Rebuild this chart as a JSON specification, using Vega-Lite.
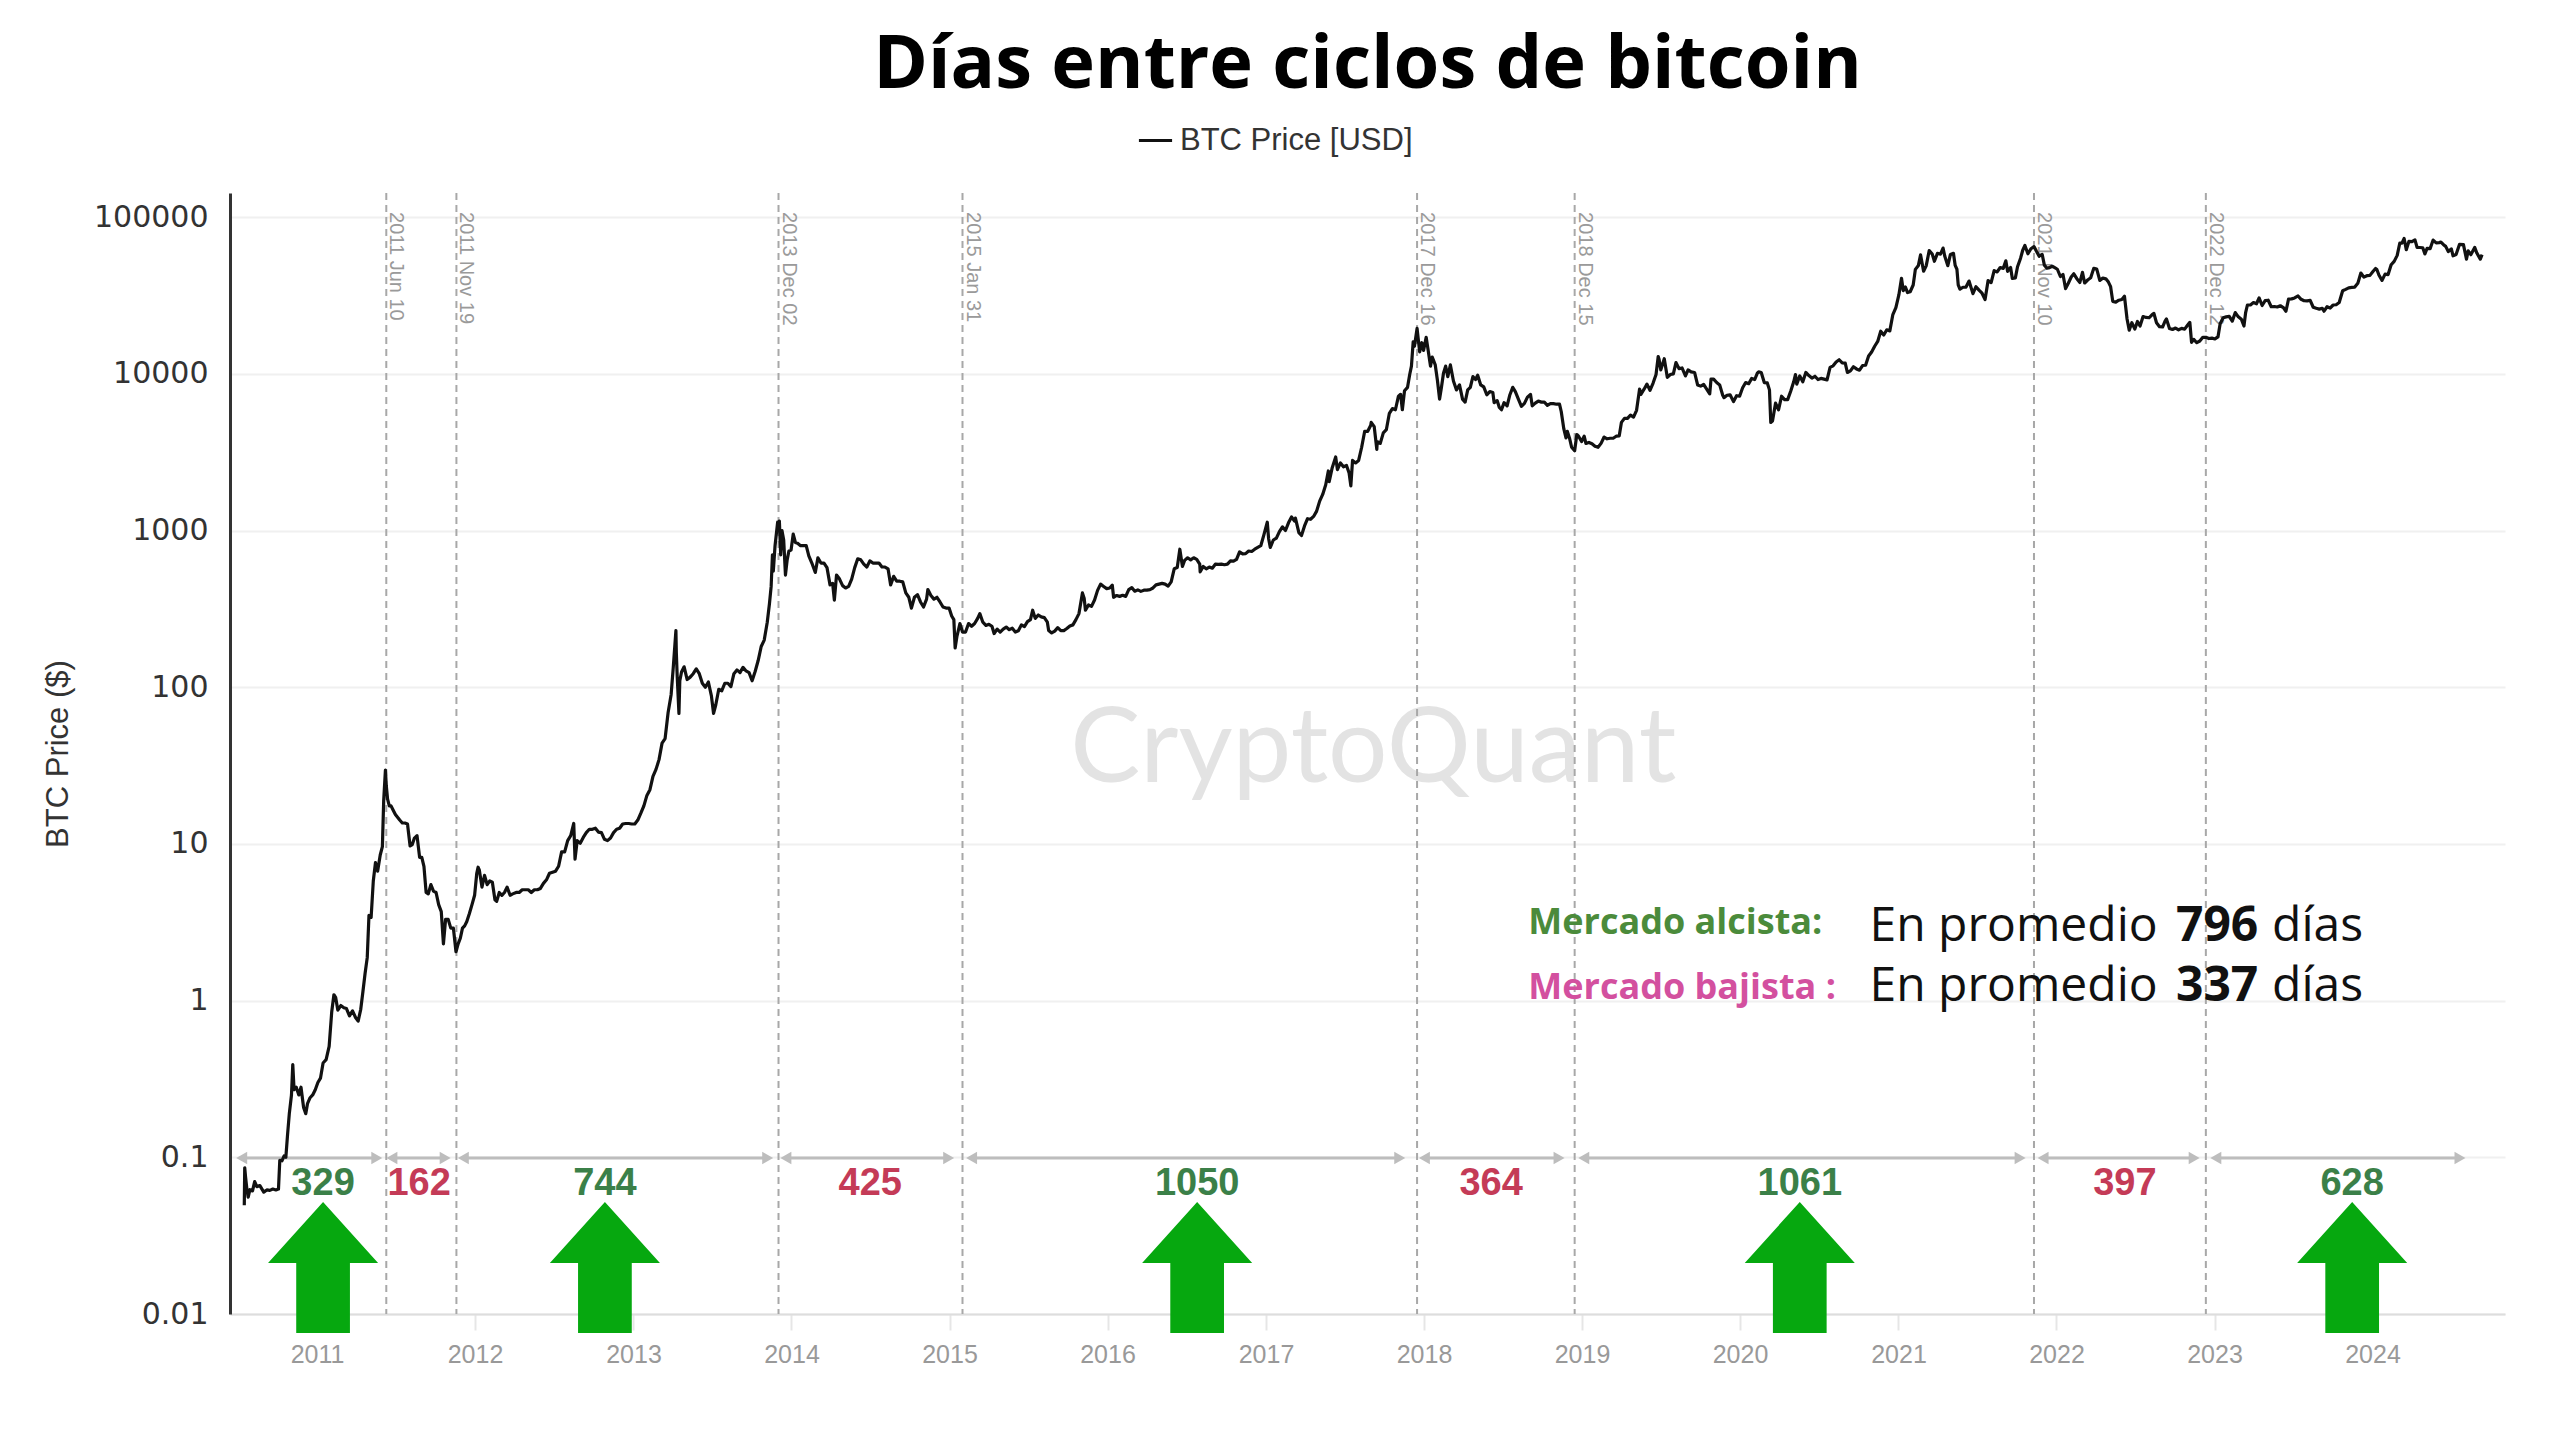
{
"$schema": "https://vega.github.io/schema/vega-lite/v6.json",
"width": 2275, "height": 1121,
"autosize": {"type": "none"},
"padding": {"left": 230, "top": 193, "right": 54, "bottom": 134},
"background": "white",
"title": {"text": "Días entre ciclos de bitcoin", "font": "Open Sans", "fontSize": 74, "fontWeight": "bold", "color": "#000000", "anchor": "middle", "frame": "group", "offset": 18},
"config": {"view": {"stroke": null}},
"datasets": {
"cycles": [
{"date":"2011-06-10","label":"2011 Jun 10"},{"date":"2011-11-19","label":"2011 Nov 19"},{"date":"2013-12-02","label":"2013 Dec 02"},{"date":"2015-01-31","label":"2015 Jan 31"},{"date":"2017-12-16","label":"2017 Dec 16"},{"date":"2018-12-15","label":"2018 Dec 15"},{"date":"2021-11-10","label":"2021 Nov 10"},{"date":"2022-12-12","label":"2022 Dec 12"}],
"intervals": [
{"start":"2010-07-11","end":"2011-05-19","mid":"2011-01-15","days":329,"kind":"alcista"},
{"start":"2011-06-23","end":"2011-10-24","mid":"2011-08-25","days":162,"kind":"bajista"},
{"start":"2011-12-05","end":"2013-11-07","mid":"2012-10-27","days":744,"kind":"alcista"},
{"start":"2013-12-19","end":"2014-12-30","mid":"2014-07-02","days":425,"kind":"bajista"},
{"start":"2015-02-21","end":"2017-11-06","mid":"2016-07-26","days":1050,"kind":"alcista"},
{"start":"2018-01-02","end":"2018-11-09","mid":"2018-06-05","days":364,"kind":"bajista"},
{"start":"2019-01-05","end":"2021-10-09","mid":"2020-05-18","days":1061,"kind":"alcista"},
{"start":"2021-12-01","end":"2022-11-15","mid":"2022-06-08","days":397,"kind":"bajista"},
{"start":"2023-01-04","end":"2024-07-21","mid":"2023-11-15","days":628,"kind":"alcista"}],
"annot": [
{"date":"2018-08-30","value":3.15,"text":"Mercado alcista:","part":"alcista"},
{"date":"2018-08-30","value":1.21,"text":"Mercado bajista :","part":"bajista"},
{"date":"2020-10-26","value":2.94,"text":"En promedio","part":"texto"},
{"date":"2020-10-26","value":1.22,"text":"En promedio","part":"texto"},
{"date":"2022-10-04","value":2.94,"text":"796","part":"numero"},
{"date":"2022-10-04","value":1.22,"text":"337","part":"numero"},
{"date":"2023-05-14","value":2.94,"text":"días","part":"texto"},
{"date":"2023-05-14","value":1.22,"text":"días","part":"texto"}],
"btc": [
{"date":"2010-07-17","price":0.0495},{"date":"2010-07-18","price":0.0858},{"date":"2010-07-20","price":0.0747},{"date":"2010-07-23","price":0.0626},{"date":"2010-07-26","price":0.0556},{"date":"2010-07-30","price":0.0621},{"date":"2010-08-05","price":0.061},{"date":"2010-08-10","price":0.07},{"date":"2010-08-15","price":0.065},{"date":"2010-08-22","price":0.066},{"date":"2010-08-31","price":0.06},{"date":"2010-09-07","price":0.0619},{"date":"2010-09-14","price":0.0615},{"date":"2010-09-21","price":0.0627},{"date":"2010-09-28","price":0.0619},{"date":"2010-10-04","price":0.0627},{"date":"2010-10-07","price":0.0956},{"date":"2010-10-12","price":0.095},{"date":"2010-10-17","price":0.102},{"date":"2010-10-21","price":0.1},{"date":"2010-10-25","price":0.14},{"date":"2010-10-29","price":0.19},{"date":"2010-11-03","price":0.25},{"date":"2010-11-06","price":0.39},{"date":"2010-11-09","price":0.27},{"date":"2010-11-14","price":0.28},{"date":"2010-11-20","price":0.25},{"date":"2010-11-25","price":0.28},{"date":"2010-12-01","price":0.208},{"date":"2010-12-06","price":0.19},{"date":"2010-12-10","price":0.22},{"date":"2010-12-16","price":0.24},{"date":"2010-12-22","price":0.25},{"date":"2010-12-28","price":0.27},
{"date":"2011-01-03","price":0.30},{"date":"2011-01-09","price":0.32},{"date":"2011-01-15","price":0.40},{"date":"2011-01-22","price":0.42},{"date":"2011-01-29","price":0.51},{"date":"2011-02-04","price":0.85},{"date":"2011-02-09","price":1.09},{"date":"2011-02-13","price":1.05},{"date":"2011-02-18","price":0.87},{"date":"2011-02-25","price":0.93},{"date":"2011-03-04","price":0.9},{"date":"2011-03-10","price":0.89},{"date":"2011-03-17","price":0.8},{"date":"2011-03-24","price":0.86},{"date":"2011-03-31","price":0.78},{"date":"2011-04-06","price":0.74},{"date":"2011-04-12","price":0.88},{"date":"2011-04-17","price":1.14},{"date":"2011-04-22","price":1.49},{"date":"2011-04-27","price":1.88},{"date":"2011-05-01","price":3.5},{"date":"2011-05-06","price":3.4},{"date":"2011-05-11","price":5.8},{"date":"2011-05-16","price":7.6},{"date":"2011-05-21","price":6.7},{"date":"2011-05-27","price":8.5},{"date":"2011-06-01","price":9.6},{"date":"2011-06-04","price":18.9},{"date":"2011-06-08","price":29.6},{"date":"2011-06-10","price":23.5},{"date":"2011-06-13","price":19.3},{"date":"2011-06-17","price":17.5},{"date":"2011-06-21","price":17.5},{"date":"2011-06-26","price":16.4},{"date":"2011-07-01","price":15.4},{"date":"2011-07-06","price":14.8},{"date":"2011-07-11","price":14.2},{"date":"2011-07-17","price":13.6},{"date":"2011-07-23","price":13.6},{"date":"2011-07-29","price":13.4},{"date":"2011-08-04","price":9.7},{"date":"2011-08-09","price":9.9},{"date":"2011-08-14","price":10.9},{"date":"2011-08-20","price":11.3},{"date":"2011-08-26","price":8.2},{"date":"2011-08-31","price":8.2},{"date":"2011-09-05","price":7.2},{"date":"2011-09-10","price":4.9},{"date":"2011-09-15","price":4.8},{"date":"2011-09-21","price":5.5},{"date":"2011-09-27","price":5.0},{"date":"2011-10-03","price":4.9},{"date":"2011-10-09","price":4.1},{"date":"2011-10-15","price":3.7},{"date":"2011-10-20","price":2.3},{"date":"2011-10-25","price":3.3},{"date":"2011-10-31","price":3.3},{"date":"2011-11-06","price":2.9},{"date":"2011-11-12","price":2.9},{"date":"2011-11-18","price":2.05},{"date":"2011-11-23","price":2.3},{"date":"2011-11-28","price":2.5},{"date":"2011-12-03","price":2.9},{"date":"2011-12-08","price":3.0},{"date":"2011-12-13","price":3.2},{"date":"2011-12-19","price":3.6},{"date":"2011-12-25","price":4.1},{"date":"2011-12-31","price":4.7},
{"date":"2012-01-05","price":6.5},{"date":"2012-01-08","price":7.1},{"date":"2012-01-11","price":6.8},{"date":"2012-01-17","price":5.3},{"date":"2012-01-23","price":6.3},{"date":"2012-01-29","price":5.5},{"date":"2012-02-04","price":5.8},{"date":"2012-02-10","price":5.7},{"date":"2012-02-16","price":4.4},{"date":"2012-02-20","price":4.3},{"date":"2012-02-26","price":4.9},{"date":"2012-03-03","price":4.7},{"date":"2012-03-09","price":4.9},{"date":"2012-03-15","price":5.3},{"date":"2012-03-22","price":4.7},{"date":"2012-03-28","price":4.8},{"date":"2012-04-05","price":4.9},{"date":"2012-04-12","price":4.9},{"date":"2012-04-19","price":5.1},{"date":"2012-04-26","price":5.1},{"date":"2012-05-03","price":5.1},{"date":"2012-05-10","price":4.9},{"date":"2012-05-17","price":5.1},{"date":"2012-05-24","price":5.1},{"date":"2012-05-31","price":5.2},{"date":"2012-06-07","price":5.6},{"date":"2012-06-14","price":5.9},{"date":"2012-06-21","price":6.5},{"date":"2012-06-28","price":6.6},{"date":"2012-07-05","price":6.7},{"date":"2012-07-12","price":7.2},{"date":"2012-07-19","price":8.9},{"date":"2012-07-26","price":8.9},{"date":"2012-08-02","price":10.5},{"date":"2012-08-09","price":11.3},{"date":"2012-08-16","price":13.5},{"date":"2012-08-19","price":8.0},{"date":"2012-08-24","price":10.5},{"date":"2012-08-31","price":10.1},{"date":"2012-09-07","price":11.0},{"date":"2012-09-14","price":11.8},{"date":"2012-09-21","price":12.4},{"date":"2012-09-28","price":12.4},{"date":"2012-10-05","price":12.6},{"date":"2012-10-12","price":11.9},{"date":"2012-10-19","price":11.8},{"date":"2012-10-26","price":10.7},{"date":"2012-11-02","price":10.5},{"date":"2012-11-09","price":10.9},{"date":"2012-11-16","price":11.8},{"date":"2012-11-23","price":12.4},{"date":"2012-11-30","price":12.6},{"date":"2012-12-07","price":13.4},{"date":"2012-12-14","price":13.5},{"date":"2012-12-21","price":13.5},{"date":"2012-12-28","price":13.4},
{"date":"2013-01-04","price":13.4},{"date":"2013-01-11","price":14.2},{"date":"2013-01-18","price":15.7},{"date":"2013-01-25","price":17.5},{"date":"2013-02-01","price":20.4},{"date":"2013-02-08","price":22.2},{"date":"2013-02-15","price":27.0},{"date":"2013-02-22","price":29.9},{"date":"2013-03-01","price":34.5},{"date":"2013-03-08","price":44},{"date":"2013-03-15","price":47},{"date":"2013-03-22","price":69},{"date":"2013-03-29","price":90},{"date":"2013-04-03","price":135},{"date":"2013-04-09","price":230},{"date":"2013-04-10","price":165},{"date":"2013-04-12","price":117},{"date":"2013-04-16","price":68},{"date":"2013-04-18","price":110},{"date":"2013-04-22","price":125},{"date":"2013-04-28","price":135},{"date":"2013-05-05","price":112},{"date":"2013-05-12","price":116},{"date":"2013-05-19","price":122},{"date":"2013-05-26","price":131},{"date":"2013-06-02","price":122},{"date":"2013-06-09","price":106},{"date":"2013-06-16","price":100},{"date":"2013-06-23","price":108},{"date":"2013-06-30","price":88},{"date":"2013-07-05","price":68},{"date":"2013-07-10","price":77},{"date":"2013-07-17","price":97},{"date":"2013-07-24","price":95},{"date":"2013-07-31","price":106},{"date":"2013-08-07","price":106},{"date":"2013-08-14","price":101},{"date":"2013-08-21","price":122},{"date":"2013-08-28","price":129},{"date":"2013-09-04","price":124},{"date":"2013-09-11","price":134},{"date":"2013-09-18","price":127},{"date":"2013-09-25","price":124},{"date":"2013-10-02","price":110},{"date":"2013-10-09","price":126},{"date":"2013-10-16","price":148},{"date":"2013-10-23","price":182},{"date":"2013-10-30","price":200},{"date":"2013-11-06","price":260},{"date":"2013-11-11","price":340},{"date":"2013-11-15","price":440},{"date":"2013-11-18","price":700},{"date":"2013-11-20","price":550},{"date":"2013-11-24","price":800},{"date":"2013-11-30","price":1130},{"date":"2013-12-02","price":1040},{"date":"2013-12-04","price":1150},{"date":"2013-12-07","price":700},{"date":"2013-12-10","price":1000},{"date":"2013-12-14","price":870},{"date":"2013-12-18","price":520},{"date":"2013-12-22","price":650},{"date":"2013-12-26","price":740},{"date":"2013-12-31","price":750},
{"date":"2014-01-05","price":950},{"date":"2014-01-10","price":840},{"date":"2014-01-15","price":830},{"date":"2014-01-22","price":800},{"date":"2014-01-29","price":800},{"date":"2014-02-04","price":800},{"date":"2014-02-10","price":690},{"date":"2014-02-17","price":620},{"date":"2014-02-25","price":540},{"date":"2014-03-03","price":670},{"date":"2014-03-10","price":620},{"date":"2014-03-17","price":620},{"date":"2014-03-24","price":580},{"date":"2014-03-31","price":450},{"date":"2014-04-06","price":460},{"date":"2014-04-10","price":360},{"date":"2014-04-15","price":520},{"date":"2014-04-22","price":490},{"date":"2014-04-29","price":445},{"date":"2014-05-06","price":430},{"date":"2014-05-13","price":440},{"date":"2014-05-20","price":490},{"date":"2014-05-27","price":580},{"date":"2014-06-03","price":660},{"date":"2014-06-10","price":650},{"date":"2014-06-17","price":610},{"date":"2014-06-24","price":585},{"date":"2014-07-01","price":640},{"date":"2014-07-08","price":620},{"date":"2014-07-15","price":620},{"date":"2014-07-22","price":620},{"date":"2014-07-29","price":585},{"date":"2014-08-05","price":585},{"date":"2014-08-12","price":570},{"date":"2014-08-18","price":450},{"date":"2014-08-25","price":510},{"date":"2014-09-01","price":475},{"date":"2014-09-08","price":475},{"date":"2014-09-15","price":470},{"date":"2014-09-22","price":400},{"date":"2014-09-29","price":375},{"date":"2014-10-05","price":320},{"date":"2014-10-12","price":375},{"date":"2014-10-19","price":390},{"date":"2014-10-26","price":350},{"date":"2014-11-02","price":325},{"date":"2014-11-09","price":365},{"date":"2014-11-12","price":420},{"date":"2014-11-19","price":385},{"date":"2014-11-26","price":365},{"date":"2014-12-03","price":375},{"date":"2014-12-10","price":350},{"date":"2014-12-17","price":325},{"date":"2014-12-24","price":320},{"date":"2014-12-31","price":320},
{"date":"2015-01-06","price":285},{"date":"2015-01-11","price":270},{"date":"2015-01-14","price":178},{"date":"2015-01-18","price":210},{"date":"2015-01-25","price":255},{"date":"2015-01-31","price":225},{"date":"2015-02-07","price":225},{"date":"2015-02-14","price":255},{"date":"2015-02-21","price":245},{"date":"2015-02-28","price":255},{"date":"2015-03-07","price":275},{"date":"2015-03-12","price":295},{"date":"2015-03-19","price":260},{"date":"2015-03-26","price":248},{"date":"2015-04-02","price":252},{"date":"2015-04-09","price":245},{"date":"2015-04-14","price":220},{"date":"2015-04-21","price":235},{"date":"2015-04-28","price":225},{"date":"2015-05-05","price":235},{"date":"2015-05-12","price":242},{"date":"2015-05-19","price":233},{"date":"2015-05-26","price":238},{"date":"2015-06-02","price":225},{"date":"2015-06-09","price":229},{"date":"2015-06-16","price":250},{"date":"2015-06-23","price":244},{"date":"2015-06-30","price":262},{"date":"2015-07-07","price":270},{"date":"2015-07-12","price":310},{"date":"2015-07-18","price":275},{"date":"2015-07-25","price":289},{"date":"2015-08-01","price":281},{"date":"2015-08-08","price":278},{"date":"2015-08-15","price":260},{"date":"2015-08-18","price":230},{"date":"2015-08-25","price":222},{"date":"2015-09-01","price":228},{"date":"2015-09-08","price":240},{"date":"2015-09-15","price":230},{"date":"2015-09-22","price":230},{"date":"2015-09-29","price":237},{"date":"2015-10-06","price":246},{"date":"2015-10-13","price":250},{"date":"2015-10-20","price":270},{"date":"2015-10-27","price":295},{"date":"2015-11-04","price":400},{"date":"2015-11-08","price":370},{"date":"2015-11-11","price":310},{"date":"2015-11-18","price":335},{"date":"2015-11-25","price":328},{"date":"2015-12-02","price":360},{"date":"2015-12-09","price":415},{"date":"2015-12-16","price":455},{"date":"2015-12-23","price":440},{"date":"2015-12-30","price":426},
{"date":"2016-01-06","price":430},{"date":"2016-01-12","price":448},{"date":"2016-01-15","price":375},{"date":"2016-01-22","price":385},{"date":"2016-01-29","price":380},{"date":"2016-02-05","price":386},{"date":"2016-02-12","price":380},{"date":"2016-02-19","price":420},{"date":"2016-02-26","price":432},{"date":"2016-03-04","price":410},{"date":"2016-03-11","price":418},{"date":"2016-03-18","price":409},{"date":"2016-03-25","price":416},{"date":"2016-04-01","price":417},{"date":"2016-04-08","price":420},{"date":"2016-04-15","price":430},{"date":"2016-04-22","price":450},{"date":"2016-04-29","price":455},{"date":"2016-05-06","price":460},{"date":"2016-05-13","price":455},{"date":"2016-05-20","price":442},{"date":"2016-05-27","price":470},{"date":"2016-06-03","price":570},{"date":"2016-06-10","price":580},{"date":"2016-06-16","price":760},{"date":"2016-06-22","price":590},{"date":"2016-06-27","price":645},{"date":"2016-07-04","price":670},{"date":"2016-07-11","price":650},{"date":"2016-07-18","price":670},{"date":"2016-07-25","price":655},{"date":"2016-08-01","price":610},{"date":"2016-08-02","price":545},{"date":"2016-08-09","price":590},{"date":"2016-08-16","price":570},{"date":"2016-08-23","price":585},{"date":"2016-08-30","price":575},{"date":"2016-09-06","price":610},{"date":"2016-09-13","price":608},{"date":"2016-09-20","price":610},{"date":"2016-09-27","price":605},{"date":"2016-10-04","price":610},{"date":"2016-10-11","price":640},{"date":"2016-10-18","price":638},{"date":"2016-10-25","price":655},{"date":"2016-11-01","price":730},{"date":"2016-11-08","price":710},{"date":"2016-11-15","price":712},{"date":"2016-11-22","price":740},{"date":"2016-11-29","price":735},{"date":"2016-12-06","price":760},{"date":"2016-12-13","price":780},{"date":"2016-12-20","price":800},{"date":"2016-12-27","price":935},
{"date":"2017-01-04","price":1130},{"date":"2017-01-07","price":890},{"date":"2017-01-11","price":780},{"date":"2017-01-18","price":870},{"date":"2017-01-25","price":895},{"date":"2017-02-01","price":985},{"date":"2017-02-08","price":1055},{"date":"2017-02-15","price":1000},{"date":"2017-02-22","price":1120},{"date":"2017-03-01","price":1220},{"date":"2017-03-08","price":1150},{"date":"2017-03-10","price":1200},{"date":"2017-03-18","price":970},{"date":"2017-03-24","price":930},{"date":"2017-03-31","price":1070},{"date":"2017-04-07","price":1190},{"date":"2017-04-14","price":1180},{"date":"2017-04-21","price":1230},{"date":"2017-04-28","price":1330},{"date":"2017-05-05","price":1540},{"date":"2017-05-12","price":1700},{"date":"2017-05-19","price":1960},{"date":"2017-05-25","price":2400},{"date":"2017-05-27","price":2050},{"date":"2017-06-03","price":2520},{"date":"2017-06-11","price":2950},{"date":"2017-06-15","price":2450},{"date":"2017-06-22","price":2700},{"date":"2017-06-29","price":2550},{"date":"2017-07-06","price":2600},{"date":"2017-07-12","price":2330},{"date":"2017-07-16","price":1930},{"date":"2017-07-20","price":2800},{"date":"2017-07-27","price":2700},{"date":"2017-08-03","price":2800},{"date":"2017-08-10","price":3400},{"date":"2017-08-17","price":4300},{"date":"2017-08-24","price":4300},{"date":"2017-08-31","price":4700},{"date":"2017-09-01","price":4900},{"date":"2017-09-08","price":4600},{"date":"2017-09-14","price":3300},{"date":"2017-09-15","price":3700},{"date":"2017-09-22","price":3600},{"date":"2017-09-29","price":4200},{"date":"2017-10-06","price":4400},{"date":"2017-10-13","price":5600},{"date":"2017-10-20","price":6000},{"date":"2017-10-27","price":5900},{"date":"2017-11-03","price":7200},{"date":"2017-11-08","price":7400},{"date":"2017-11-12","price":5900},{"date":"2017-11-17","price":7800},{"date":"2017-11-24","price":8200},{"date":"2017-11-29","price":9900},{"date":"2017-12-03","price":11200},{"date":"2017-12-07","price":16000},{"date":"2017-12-10","price":15000},{"date":"2017-12-16","price":19500},{"date":"2017-12-22","price":13800},{"date":"2017-12-27","price":15800},{"date":"2017-12-31","price":14100},
{"date":"2018-01-06","price":17100},{"date":"2018-01-10","price":14500},{"date":"2018-01-16","price":11200},{"date":"2018-01-20","price":12800},{"date":"2018-01-27","price":11400},{"date":"2018-02-01","price":9100},{"date":"2018-02-06","price":6900},{"date":"2018-02-10","price":8100},{"date":"2018-02-15","price":10100},{"date":"2018-02-20","price":11200},{"date":"2018-02-25","price":9600},{"date":"2018-03-03","price":11400},{"date":"2018-03-10","price":9000},{"date":"2018-03-17","price":7900},{"date":"2018-03-24","price":8500},{"date":"2018-03-31","price":6900},{"date":"2018-04-06","price":6600},{"date":"2018-04-12","price":7900},{"date":"2018-04-18","price":8200},{"date":"2018-04-24","price":9600},{"date":"2018-04-30","price":9200},{"date":"2018-05-05","price":9800},{"date":"2018-05-12","price":8500},{"date":"2018-05-19","price":8250},{"date":"2018-05-26","price":7350},{"date":"2018-06-02","price":7700},{"date":"2018-06-09","price":7600},{"date":"2018-06-12","price":6550},{"date":"2018-06-19","price":6750},{"date":"2018-06-24","price":6100},{"date":"2018-06-29","price":5900},{"date":"2018-07-05","price":6550},{"date":"2018-07-12","price":6250},{"date":"2018-07-18","price":7300},{"date":"2018-07-25","price":8200},{"date":"2018-07-31","price":7700},{"date":"2018-08-07","price":6900},{"date":"2018-08-14","price":6200},{"date":"2018-08-21","price":6480},{"date":"2018-08-28","price":7100},{"date":"2018-09-04","price":7400},{"date":"2018-09-08","price":6250},{"date":"2018-09-15","price":6500},{"date":"2018-09-22","price":6700},{"date":"2018-09-29","price":6600},{"date":"2018-10-06","price":6600},{"date":"2018-10-13","price":6300},{"date":"2018-10-20","price":6450},{"date":"2018-10-27","price":6450},{"date":"2018-11-03","price":6400},{"date":"2018-11-10","price":6400},{"date":"2018-11-14","price":5750},{"date":"2018-11-20","price":4450},{"date":"2018-11-25","price":3900},{"date":"2018-11-28","price":4300},{"date":"2018-12-03","price":3900},{"date":"2018-12-08","price":3400},{"date":"2018-12-15","price":3230},{"date":"2018-12-20","price":4100},{"date":"2018-12-24","price":4000},{"date":"2018-12-31","price":3700},
{"date":"2019-01-06","price":4000},{"date":"2019-01-10","price":3600},{"date":"2019-01-17","price":3650},{"date":"2019-01-24","price":3580},{"date":"2019-01-31","price":3450},{"date":"2019-02-07","price":3400},{"date":"2019-02-14","price":3600},{"date":"2019-02-21","price":3950},{"date":"2019-02-28","price":3850},{"date":"2019-03-07","price":3880},{"date":"2019-03-14","price":3880},{"date":"2019-03-21","price":4000},{"date":"2019-03-28","price":4020},{"date":"2019-04-02","price":4900},{"date":"2019-04-09","price":5200},{"date":"2019-04-16","price":5200},{"date":"2019-04-23","price":5450},{"date":"2019-04-30","price":5300},{"date":"2019-05-07","price":5850},{"date":"2019-05-14","price":8000},{"date":"2019-05-17","price":7400},{"date":"2019-05-24","price":7950},{"date":"2019-05-31","price":8600},{"date":"2019-06-07","price":7850},{"date":"2019-06-14","price":8700},{"date":"2019-06-21","price":9900},{"date":"2019-06-26","price":12900},{"date":"2019-06-28","price":12400},{"date":"2019-07-02","price":10600},{"date":"2019-07-10","price":12500},{"date":"2019-07-17","price":9500},{"date":"2019-07-24","price":9900},{"date":"2019-07-31","price":10000},{"date":"2019-08-06","price":11800},{"date":"2019-08-13","price":10800},{"date":"2019-08-20","price":10900},{"date":"2019-08-28","price":9700},{"date":"2019-09-03","price":10600},{"date":"2019-09-10","price":10300},{"date":"2019-09-18","price":10200},{"date":"2019-09-25","price":8500},{"date":"2019-10-02","price":8350},{"date":"2019-10-09","price":8550},{"date":"2019-10-16","price":8000},{"date":"2019-10-23","price":7450},{"date":"2019-10-26","price":9250},{"date":"2019-11-01","price":9250},{"date":"2019-11-08","price":8800},{"date":"2019-11-15","price":8500},{"date":"2019-11-22","price":7300},{"date":"2019-11-25","price":7050},{"date":"2019-12-02","price":7300},{"date":"2019-12-09","price":7350},{"date":"2019-12-17","price":6650},{"date":"2019-12-24","price":7250},{"date":"2019-12-31","price":7200},
{"date":"2020-01-07","price":8150},{"date":"2020-01-14","price":8800},{"date":"2020-01-21","price":8650},{"date":"2020-01-28","price":9350},{"date":"2020-02-04","price":9200},{"date":"2020-02-10","price":10100},{"date":"2020-02-13","price":10300},{"date":"2020-02-19","price":10200},{"date":"2020-02-26","price":8800},{"date":"2020-03-04","price":8750},{"date":"2020-03-09","price":7900},{"date":"2020-03-12","price":4900},{"date":"2020-03-16","price":5000},{"date":"2020-03-23","price":6500},{"date":"2020-03-30","price":5900},{"date":"2020-04-06","price":7200},{"date":"2020-04-13","price":6850},{"date":"2020-04-20","price":6850},{"date":"2020-04-27","price":7750},{"date":"2020-05-04","price":8900},{"date":"2020-05-08","price":9900},{"date":"2020-05-11","price":8600},{"date":"2020-05-18","price":9700},{"date":"2020-05-25","price":8900},{"date":"2020-06-01","price":10200},{"date":"2020-06-08","price":9750},{"date":"2020-06-15","price":9400},{"date":"2020-06-22","price":9650},{"date":"2020-06-29","price":9200},{"date":"2020-07-06","price":9350},{"date":"2020-07-13","price":9250},{"date":"2020-07-20","price":9150},{"date":"2020-07-27","price":11000},{"date":"2020-08-03","price":11250},{"date":"2020-08-10","price":11900},{"date":"2020-08-17","price":12300},{"date":"2020-08-24","price":11750},{"date":"2020-08-31","price":11700},{"date":"2020-09-05","price":10200},{"date":"2020-09-12","price":10450},{"date":"2020-09-19","price":11100},{"date":"2020-09-26","price":10750},{"date":"2020-10-03","price":10550},{"date":"2020-10-10","price":11300},{"date":"2020-10-17","price":11350},{"date":"2020-10-24","price":13000},{"date":"2020-10-31","price":13800},{"date":"2020-11-07","price":15000},{"date":"2020-11-14","price":16100},{"date":"2020-11-21","price":18700},{"date":"2020-11-28","price":17700},{"date":"2020-12-05","price":19100},{"date":"2020-12-12","price":18800},{"date":"2020-12-19","price":23900},{"date":"2020-12-26","price":26500},
{"date":"2021-01-02","price":32000},{"date":"2021-01-08","price":40700},{"date":"2021-01-12","price":34000},{"date":"2021-01-17","price":35800},{"date":"2021-01-22","price":33000},{"date":"2021-01-28","price":33400},{"date":"2021-02-04","price":36900},{"date":"2021-02-09","price":46400},{"date":"2021-02-16","price":49200},{"date":"2021-02-21","price":57500},{"date":"2021-02-28","price":45200},{"date":"2021-03-06","price":48900},{"date":"2021-03-13","price":61200},{"date":"2021-03-20","price":58100},{"date":"2021-03-25","price":52300},{"date":"2021-04-01","price":58800},{"date":"2021-04-08","price":58100},{"date":"2021-04-14","price":63500},{"date":"2021-04-18","price":56200},{"date":"2021-04-25","price":49000},{"date":"2021-05-01","price":57800},{"date":"2021-05-08","price":58800},{"date":"2021-05-12","price":49200},{"date":"2021-05-16","price":46500},{"date":"2021-05-19","price":37000},{"date":"2021-05-23","price":34700},{"date":"2021-05-30","price":35700},{"date":"2021-06-06","price":35800},{"date":"2021-06-13","price":39100},{"date":"2021-06-22","price":32500},{"date":"2021-06-29","price":36000},{"date":"2021-07-06","price":34200},{"date":"2021-07-13","price":32700},{"date":"2021-07-20","price":29800},{"date":"2021-07-27","price":39400},{"date":"2021-08-03","price":38200},{"date":"2021-08-10","price":45600},{"date":"2021-08-17","price":44700},{"date":"2021-08-24","price":47700},{"date":"2021-08-31","price":47100},{"date":"2021-09-06","price":52600},{"date":"2021-09-10","price":45100},{"date":"2021-09-17","price":47700},{"date":"2021-09-21","price":40600},{"date":"2021-09-28","price":41000},{"date":"2021-10-03","price":48200},{"date":"2021-10-10","price":54700},{"date":"2021-10-15","price":61500},{"date":"2021-10-20","price":66000},{"date":"2021-10-27","price":58400},{"date":"2021-11-03","price":62900},{"date":"2021-11-10","price":64900},{"date":"2021-11-16","price":60300},{"date":"2021-11-22","price":56300},{"date":"2021-11-29","price":57800},{"date":"2021-12-04","price":49400},{"date":"2021-12-10","price":47200},{"date":"2021-12-16","price":47600},{"date":"2021-12-22","price":48600},{"date":"2021-12-28","price":47600},
{"date":"2022-01-03","price":46500},{"date":"2022-01-10","price":41800},{"date":"2022-01-16","price":43100},{"date":"2022-01-22","price":35000},{"date":"2022-01-28","price":37700},{"date":"2022-02-04","price":41500},{"date":"2022-02-10","price":43500},{"date":"2022-02-17","price":40500},{"date":"2022-02-24","price":38300},{"date":"2022-03-02","price":44400},{"date":"2022-03-07","price":38000},{"date":"2022-03-14","price":39700},{"date":"2022-03-21","price":41000},{"date":"2022-03-28","price":47100},{"date":"2022-04-04","price":46600},{"date":"2022-04-11","price":39500},{"date":"2022-04-18","price":40800},{"date":"2022-04-25","price":40400},{"date":"2022-05-01","price":38500},{"date":"2022-05-06","price":36000},{"date":"2022-05-11","price":29000},{"date":"2022-05-18","price":28700},{"date":"2022-05-25","price":29500},{"date":"2022-06-01","price":29800},{"date":"2022-06-07","price":31300},{"date":"2022-06-13","price":22400},{"date":"2022-06-18","price":19000},{"date":"2022-06-24","price":21200},{"date":"2022-07-01","price":19300},{"date":"2022-07-07","price":21600},{"date":"2022-07-13","price":20200},{"date":"2022-07-20","price":23200},{"date":"2022-07-27","price":22900},{"date":"2022-08-03","price":22800},{"date":"2022-08-10","price":23900},{"date":"2022-08-14","price":24300},{"date":"2022-08-20","price":21200},{"date":"2022-08-27","price":20000},{"date":"2022-09-03","price":19900},{"date":"2022-09-09","price":21800},{"date":"2022-09-12","price":22400},{"date":"2022-09-19","price":19500},{"date":"2022-09-26","price":19200},{"date":"2022-10-03","price":19600},{"date":"2022-10-10","price":19100},{"date":"2022-10-17","price":19500},{"date":"2022-10-24","price":19300},{"date":"2022-10-31","price":20500},{"date":"2022-11-05","price":21300},{"date":"2022-11-09","price":15900},{"date":"2022-11-14","price":16600},{"date":"2022-11-21","price":15800},{"date":"2022-11-28","price":16200},{"date":"2022-12-05","price":17100},{"date":"2022-12-12","price":17100},{"date":"2022-12-19","price":16800},{"date":"2022-12-26","price":16900},
{"date":"2023-01-02","price":16700},{"date":"2023-01-09","price":17200},{"date":"2023-01-14","price":20900},{"date":"2023-01-21","price":22800},{"date":"2023-01-28","price":23100},{"date":"2023-02-04","price":23300},{"date":"2023-02-11","price":21700},{"date":"2023-02-18","price":24600},{"date":"2023-02-25","price":23100},{"date":"2023-03-04","price":22300},{"date":"2023-03-10","price":20200},{"date":"2023-03-14","price":24700},{"date":"2023-03-18","price":27500},{"date":"2023-03-25","price":27500},{"date":"2023-04-01","price":28500},{"date":"2023-04-08","price":28000},{"date":"2023-04-14","price":30500},{"date":"2023-04-21","price":27300},{"date":"2023-04-28","price":29300},{"date":"2023-05-05","price":29500},{"date":"2023-05-12","price":26800},{"date":"2023-05-19","price":26900},{"date":"2023-05-26","price":26700},{"date":"2023-06-02","price":27200},{"date":"2023-06-09","price":26500},{"date":"2023-06-15","price":25100},{"date":"2023-06-21","price":30000},{"date":"2023-06-28","price":30100},{"date":"2023-07-05","price":30500},{"date":"2023-07-13","price":31400},{"date":"2023-07-20","price":29900},{"date":"2023-07-27","price":29300},{"date":"2023-08-03","price":29200},{"date":"2023-08-10","price":29400},{"date":"2023-08-17","price":26600},{"date":"2023-08-24","price":26200},{"date":"2023-08-31","price":25900},{"date":"2023-09-07","price":26200},{"date":"2023-09-11","price":25100},{"date":"2023-09-18","price":26800},{"date":"2023-09-25","price":26300},{"date":"2023-10-02","price":27500},{"date":"2023-10-09","price":27600},{"date":"2023-10-16","price":28500},{"date":"2023-10-24","price":33900},{"date":"2023-10-31","price":34600},{"date":"2023-11-07","price":35400},{"date":"2023-11-14","price":35600},{"date":"2023-11-21","price":35800},{"date":"2023-11-28","price":37800},{"date":"2023-12-05","price":44000},{"date":"2023-12-12","price":41400},{"date":"2023-12-19","price":42300},{"date":"2023-12-26","price":42500},
{"date":"2024-01-02","price":45000},{"date":"2024-01-08","price":47000},{"date":"2024-01-11","price":46300},{"date":"2024-01-16","price":42600},{"date":"2024-01-23","price":39500},{"date":"2024-01-30","price":43300},{"date":"2024-02-06","price":43000},{"date":"2024-02-13","price":49700},{"date":"2024-02-20","price":52200},{"date":"2024-02-27","price":57000},{"date":"2024-03-04","price":68300},{"date":"2024-03-09","price":68300},{"date":"2024-03-14","price":73100},{"date":"2024-03-19","price":62000},{"date":"2024-03-25","price":70000},{"date":"2024-04-01","price":69700},{"date":"2024-04-08","price":71600},{"date":"2024-04-13","price":64000},{"date":"2024-04-19","price":64000},{"date":"2024-04-26","price":63800},{"date":"2024-05-01","price":58300},{"date":"2024-05-06","price":63200},{"date":"2024-05-13","price":62900},{"date":"2024-05-20","price":71400},{"date":"2024-05-27","price":68500},{"date":"2024-06-03","price":68800},{"date":"2024-06-07","price":69300},{"date":"2024-06-13","price":66700},{"date":"2024-06-18","price":65100},{"date":"2024-06-24","price":60300},{"date":"2024-07-01","price":62700},{"date":"2024-07-05","price":56700},{"date":"2024-07-12","price":57800},{"date":"2024-07-20","price":67100},{"date":"2024-07-29","price":66800},{"date":"2024-08-05","price":54000},{"date":"2024-08-09","price":60900},{"date":"2024-08-15","price":57600},{"date":"2024-08-24","price":64100},{"date":"2024-08-29","price":59000},{"date":"2024-09-06","price":53950},{"date":"2024-09-10","price":57600}]
},
"layer": [
{"data": {"values": [{"name": "CryptoQuant"}]},
 "mark": {"type": "text", "font": "Lato", "fontSize": 105, "color": "#e3e3e3", "align": "center", "baseline": "middle"},
 "encoding": {
  "x": {"datum": {"year": 2017, "month": 9, "date": 6, "utc": true}, "type": "temporal",
        "scale": {"type": "utc", "domain": [{"year": 2010, "month": 6, "date": 14, "utc": true}, {"year": 2024, "month": 11, "date": 2, "utc": true}]},
        "axis": {"title": null, "format": "%Y", "tickCount": {"interval": "year", "step": 1}, "grid": false, "domainColor": "#dddddd", "domainWidth": 2, "tickColor": "#e6e6e6", "tickWidth": 2, "tickSize": 16, "labelFont": "Liberation Sans", "labelFontSize": 25, "labelColor": "#999999", "labelPadding": 12, "labelFlush": false, "labelOverlap": false}},
  "y": {"datum": 39.7, "type": "quantitative",
        "scale": {"type": "log", "domain": [0.01, 142600], "nice": false},
        "axis": {"title": "BTC Price ($)", "values": [0.01, 0.1, 1, 10, 100, 1000, 10000, 100000], "format": "~f", "grid": true, "gridColor": "#f0f0f0", "gridWidth": 2, "ticks": false, "domainColor": "#333333", "domainWidth": 3, "labelFont": "DejaVu Sans", "labelFontSize": 30, "labelColor": "#333333", "labelPadding": 22, "labelFlush": false, "titleFont": "Liberation Sans", "titleFontSize": 31, "titleFontWeight": "normal", "titleColor": "#333333", "titlePadding": 19}},
  "text": {"field": "name"}
 }},
{"data": {"name": "cycles"},
 "mark": {"type": "rule", "color": "#a8a8a8", "strokeWidth": 2, "strokeDash": [7, 5]},
 "encoding": {"x": {"field": "date", "type": "temporal"}}},
{"data": {"name": "cycles"},
 "mark": {"type": "text", "angle": 90, "align": "left", "baseline": "bottom", "font": "Liberation Sans", "fontSize": 20, "color": "#9a9a9a"},
 "encoding": {"x": {"field": "date", "type": "temporal"}, "y": {"datum": 107700, "type": "quantitative"}, "text": {"field": "label"}}},
{"data": {"name": "intervals"},
 "mark": {"type": "rule", "color": "#bdbdbd", "strokeWidth": 3},
 "encoding": {"x": {"field": "start", "type": "temporal"}, "x2": {"field": "end"}, "y": {"datum": 0.099, "type": "quantitative"}}},
{"data": {"name": "intervals"},
 "mark": {"type": "point", "shape": "triangle-left", "size": 160, "filled": true, "color": "#bdbdbd", "opacity": 1},
 "encoding": {"x": {"field": "start", "type": "temporal"}, "y": {"datum": 0.099, "type": "quantitative"}}},
{"data": {"name": "intervals"},
 "mark": {"type": "point", "shape": "triangle-right", "size": 160, "filled": true, "color": "#bdbdbd", "opacity": 1},
 "encoding": {"x": {"field": "end", "type": "temporal"}, "y": {"datum": 0.099, "type": "quantitative"}}},
{"data": {"name": "intervals"},
 "mark": {"type": "text", "font": "Liberation Sans", "fontWeight": "bold", "fontSize": 38, "align": "center", "baseline": "middle"},
 "encoding": {"x": {"field": "mid", "type": "temporal"}, "y": {"datum": 0.0676, "type": "quantitative"}, "text": {"field": "days"},
  "fill": {"field": "kind", "type": "nominal", "scale": {"domain": ["alcista", "bajista"], "range": ["#3b8048", "#c43b57"]}, "legend": null}}},
{"data": {"name": "intervals"},
 "transform": [{"filter": "datum.kind === 'alcista'"}],
 "mark": {"type": "point", "shape": "M0,-1L0.84,-0.07L0.41,-0.07L0.41,1L-0.41,1L-0.41,-0.07L-0.84,-0.07Z", "size": 17161, "filled": true, "color": "#06a80f", "opacity": 1, "strokeWidth": 0},
 "encoding": {"x": {"field": "mid", "type": "temporal"}, "y": {"datum": 0.0198, "type": "quantitative"}}},
{"data": {"name": "btc"},
 "mark": {"type": "line", "strokeWidth": 3.2, "strokeJoin": "round"},
 "encoding": {"x": {"field": "date", "type": "temporal"}, "y": {"field": "price", "type": "quantitative"},
  "stroke": {"datum": "BTC Price [USD]", "scale": {"range": ["#111111"]},
   "legend": {"orient": "none", "legendX": 907, "legendY": -71, "title": null, "symbolType": "stroke", "symbolSize": 1100, "symbolStrokeWidth": 3, "labelFont": "Liberation Sans", "labelFontSize": 31, "labelColor": "#333333", "labelOffset": 6, "labelLimit": 500, "padding": 0}}}},
{"data": {"name": "annot"},
 "transform": [{"filter": "datum.part === 'alcista' || datum.part === 'bajista'"}],
 "mark": {"type": "text", "font": "Open Sans", "fontWeight": "bold", "fontSize": 36, "align": "left", "baseline": "middle"},
 "encoding": {"x": {"field": "date", "type": "temporal"}, "y": {"field": "value", "type": "quantitative"}, "text": {"field": "text"},
  "fill": {"field": "part", "type": "nominal", "scale": {"domain": ["alcista", "bajista"], "range": ["#4b8b3b", "#d3509f"]}, "legend": null}}},
{"data": {"name": "annot"},
 "transform": [{"filter": "datum.part === 'texto'"}],
 "mark": {"type": "text", "font": "Open Sans", "fontSize": 48, "align": "left", "baseline": "middle", "color": "#111111"},
 "encoding": {"x": {"field": "date", "type": "temporal"}, "y": {"field": "value", "type": "quantitative"}, "text": {"field": "text"}}},
{"data": {"name": "annot"},
 "transform": [{"filter": "datum.part === 'numero'"}],
 "mark": {"type": "text", "font": "Open Sans", "fontWeight": "bold", "fontSize": 48, "align": "left", "baseline": "middle", "color": "#111111"},
 "encoding": {"x": {"field": "date", "type": "temporal"}, "y": {"field": "value", "type": "quantitative"}, "text": {"field": "text"}}}
],
"resolve": {"scale": {"fill": "independent"}}
}
